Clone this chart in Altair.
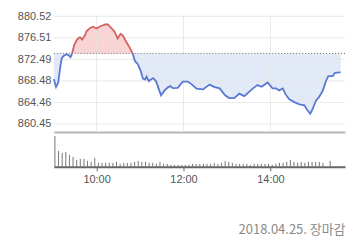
import altair as alt
import pandas as pd

BASE = 873.6
Y_TICKS = [860.45, 864.46, 868.48, 872.49, 876.51, 880.52]
X_TICKS = [60, 180, 300]
DATE_LABEL = "2018.04.25. 장마감"

# minutes after 09:00 and index value
MINUTES = [1, 4, 7, 10, 12, 14, 18, 21, 24, 26, 29, 33, 35, 37, 40, 44, 46, 51, 55, 60,
           65, 69, 73, 76, 79, 82, 85, 89, 93, 96, 101, 106, 110, 113, 117, 121, 124, 127,
           129, 132, 138, 142, 146, 149, 154, 158, 162, 165, 172, 179, 186, 191, 198, 207,
           216, 223, 230, 237, 243, 250, 257, 264, 269, 276, 282, 288, 296, 303, 308, 312,
           317, 321, 326, 333, 340, 347, 350, 355, 358, 363, 367, 372, 377, 380, 386, 389,
           396, 397]
PRICES = [868.81, 867.33, 868.12, 871.22, 872.71, 873.08, 873.46, 873.27, 872.90, 873.51,
          875.13, 876.19, 876.43, 876.62, 876.19, 876.99, 877.73, 878.35, 878.57, 878.23,
          878.66, 878.85, 879.03, 878.98, 878.48, 878.10, 877.60, 876.37, 877.23, 876.99,
          875.74, 874.63, 873.51, 872.15, 871.60, 870.30, 868.90, 868.72, 869.27, 868.44,
          869.00, 868.44, 866.90, 865.78, 866.71, 867.23, 867.51, 867.14, 867.19, 868.34,
          868.34, 867.88, 867.04, 866.90, 867.79, 867.32, 867.08, 865.83, 865.28, 865.28,
          866.11, 865.65, 866.26, 867.08, 867.69, 867.38, 868.19, 867.08, 867.08, 866.71,
          867.08, 865.96, 865.03, 864.53, 864.11, 863.92, 863.18, 862.36, 863.18, 864.85,
          865.46, 866.58, 868.57, 869.37, 869.37, 869.98, 870.05, 870.05]

# 5-minute volume bars (start minute after 09:00), last one is the closing auction
VOL_START = list(range(0, 375, 5)) + [380]
VOLUMES = [31, 16, 14, 15, 12, 10, 7, 8, 8, 6, 5, 9, 4, 4, 4, 4, 4, 5, 3, 4, 4, 4, 5, 6, 5, 5, 4,
           4, 3, 5, 3, 3, 2, 2, 2, 2, 2, 2, 3, 3, 3, 3, 3, 3, 4, 3, 4, 6,
           5, 4, 3, 3, 3, 3,
           2, 3, 3, 3, 3, 3, 2, 3,
           4, 4, 5, 7, 5, 4, 5, 4, 5, 5, 5, 5, 4,
           6]

RED_LINE = "#d46262"
RED_FILL = "#f9d4d4"
BLUE_LINE = "#5b79cf"
BLUE_FILL = "#e2eaf8"
GRID = "#e4e4e4"
FONT = "Liberation Sans"

# add baseline crossings so fills and line colours switch exactly at the baseline
pts = list(zip(MINUTES, PRICES))
aug = [pts[0]]
for (m1, p1), (m2, p2) in zip(pts, pts[1:]):
    if (p1 - BASE) * (p2 - BASE) < 0:
        t = (BASE - p1) / (p2 - p1)
        aug.append((m1 + t * (m2 - m1), BASE))
    aug.append((m2, p2))

area_df = pd.DataFrame({
    "m": [a[0] for a in aug],
    "hi": [max(a[1], BASE) for a in aug],
    "lo": [min(a[1], BASE) for a in aug],
    "base": [BASE] * len(aug),
})

segments = []
cur, cur_side = [], None
for m, p in aug:
    if p == BASE and cur:
        cur.append((m, p))
        segments.append((cur_side, cur))
        cur, cur_side = [(m, p)], None
    else:
        s = "up" if p > BASE else "down"
        if cur_side is None:
            cur_side = s
        cur.append((m, p))
segments.append((cur_side, cur))
line_rows = []
for i, (side, seg) in enumerate(segments):
    for m, p in seg:
        line_rows.append({"m": m, "p": p, "seg": i, "side": side})
line_df = pd.DataFrame(line_rows)

vol_df = pd.DataFrame({"m": [s + 2.5 for s in VOL_START], "v": VOLUMES})
ytick_df = pd.DataFrame({"t": Y_TICKS})
xtick_df = pd.DataFrame({"t": X_TICKS})

X_DOMAIN = [1, 403]
label_expr = "(9 + floor(datum.value / 60)) + ':' + (datum.value % 60 < 10 ? '0' : '') + (datum.value % 60)"

xs = alt.Scale(domain=X_DOMAIN, nice=False, zero=False)
ys = alt.Scale(domain=[858.96, 880.52], nice=False, zero=False)

x_price = alt.X("m:Q", scale=xs, axis=alt.Axis(values=X_TICKS, labels=False, ticks=False,
                                                  domain=True, domainColor="#b5b5b5", domainWidth=2,
                                                  grid=False, title=None))
y_axis = alt.Axis(values=Y_TICKS, format=".2f", title=None, ticks=False, domain=False,
                  grid=False, labelColor="#555", labelFont=FONT,
                  labelFontSize=11, labelPadding=3, labelOverlap=False, labelFlush=False,
                  labelBound=False, minExtent=40, maxExtent=40)

red_area = alt.Chart(area_df).mark_area(color=RED_FILL, opacity=1).encode(
    x=x_price, y=alt.Y("hi:Q", scale=ys, axis=y_axis), y2="base:Q")
blue_area = alt.Chart(area_df).mark_area(color=BLUE_FILL, opacity=1).encode(
    x="m:Q", y=alt.Y("lo:Q", axis=y_axis), y2="base:Q")
# gridlines at the labelled values, drawn over the fills
hgrid = alt.Chart(ytick_df).mark_rule(color=GRID, strokeWidth=1, opacity=0.8).encode(
    y=alt.Y("t:Q", axis=y_axis))
vgrid = alt.Chart(xtick_df).mark_rule(color=GRID, strokeWidth=1, opacity=0.8).encode(
    x="t:Q")
base_rule = alt.Chart(pd.DataFrame({"base": [BASE]})).mark_rule(
    color="#666", strokeDash=[1, 2], strokeWidth=1).encode(y=alt.Y("base:Q", axis=y_axis))
line = alt.Chart(line_df).mark_line(strokeWidth=1.8).encode(
    x="m:Q", y=alt.Y("p:Q", axis=y_axis),
    color=alt.Color("side:N", scale=alt.Scale(domain=["up", "down"], range=[RED_LINE, BLUE_LINE]),
                    legend=None),
    detail="seg:N")

price = alt.layer(red_area, blue_area, hgrid, vgrid, base_rule, line).properties(width=292, height=116)

volume = alt.Chart(vol_df).mark_rule(color="#777", strokeWidth=1).encode(
    x=alt.X("m:Q", scale=xs, axis=alt.Axis(values=X_TICKS, labelExpr=label_expr, title=None,
                                           grid=False, domainColor="#666", domainWidth=2,
                                           tickColor="#666", tickSize=4, labelPadding=3,
                                           labelColor="#555", labelFont=FONT, labelFontSize=11)),
    y=alt.Y("v:Q", scale=alt.Scale(domain=[0, 34], nice=False),
            axis=alt.Axis(labels=False, ticks=False, domain=False, grid=False, title=None,
                          minExtent=40, maxExtent=40)),
    y2=alt.datum(0),
).properties(width=292, height=34)

chart = alt.vconcat(price, volume, spacing=0).properties(
    title=alt.Title(DATE_LABEL, orient="bottom", anchor="end", font="Noto Sans CJK KR",
                    fontSize=13, fontWeight="normal", color="#8a8a8a", offset=39),
    padding={"left": 14, "top": 10, "right": 13, "bottom": 5},
).configure_view(stroke=None).configure_axis(labelOverlap=False)

chart.save("out.html", embed_options={"renderer": "svg", "actions": False})
